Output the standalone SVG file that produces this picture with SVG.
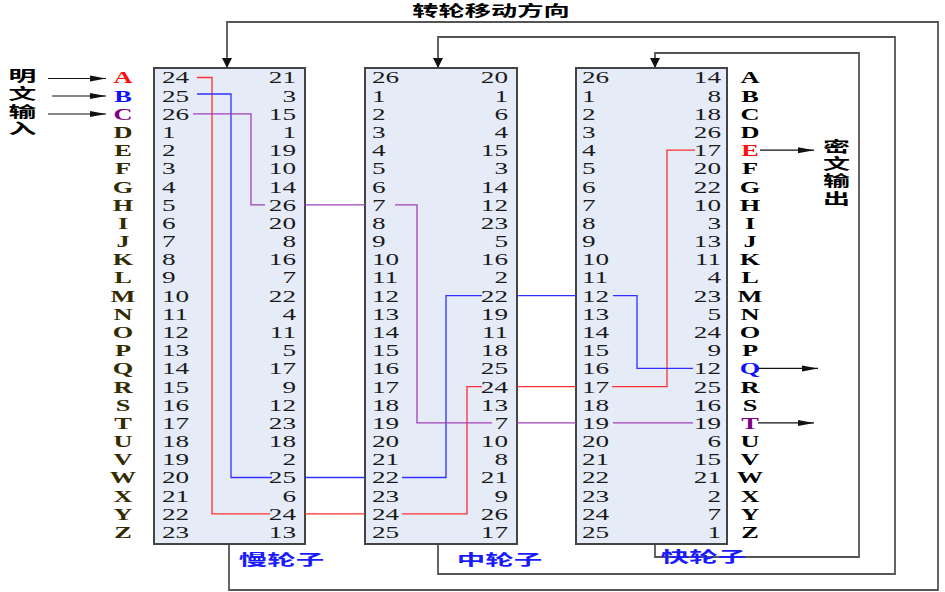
<svg xmlns="http://www.w3.org/2000/svg" width="945" height="592" viewBox="0 0 945 592">
<style>
.n{font-family:"Liberation Serif",serif;font-size:17px;fill:#1a1a1a}
.s{text-anchor:start}
.e{text-anchor:end}
.L{font-family:"Liberation Serif",serif;font-weight:bold;font-size:17px;text-anchor:middle}
.cn{font-family:"Noto Sans CJK SC",sans-serif;font-weight:bold;font-size:15px;text-anchor:middle;fill:#000}
.lab{font-family:"Noto Sans CJK SC",sans-serif;font-weight:bold;font-size:15px;text-anchor:middle;fill:#1a1aff}
.box{fill:#e6ecf7;stroke:#444;stroke-width:2}
.loop{fill:none;stroke:#555;stroke-width:1.8}
.w{fill:none;stroke-width:1.3}
.r{stroke:#ff3030}.b{stroke:#3030ff}.p{stroke:#a040b8}
.io{fill:none;stroke:#111;stroke-width:1.2}
</style>
<defs>
<marker id="ad" markerUnits="userSpaceOnUse" markerWidth="12" markerHeight="12" viewBox="0 0 12 12" refX="10" refY="6" orient="auto"><path d="M0,1 L10,6 L0,11 Z" fill="#111"/></marker>
<marker id="ah" markerUnits="userSpaceOnUse" markerWidth="17" markerHeight="8" viewBox="0 0 17 8" refX="16" refY="4" orient="auto"><path d="M0,1 L16,4 L0,7 Z" fill="#111"/></marker>
</defs>
<rect width="945" height="592" fill="#fff"/>

<g id="title"><text class="cn" transform="translate(491,0) scale(1.75,1)" x="0" y="16" font-size="17">转轮移动方向</text></g>

<g id="connectors">
<path class="loop" d="M229,544 V590 H938 V22 H227 V68" marker-end="url(#ad)"/>
<path class="loop" d="M438,544 V574 H895 V37 H438 V68" marker-end="url(#ad)"/>
<path class="loop" d="M655,544 V557 H859 V53 H655 V68" marker-end="url(#ad)"/>
<path class="io" d="M48,78.5 H106" marker-end="url(#ah)"/>
<path class="io" d="M52,96 H106" marker-end="url(#ah)"/>
<path class="io" d="M48,114 H106" marker-end="url(#ah)"/>
<path class="io" d="M760,150.2 H814" marker-end="url(#ah)"/>
<path class="io" d="M758,368.4 H818" marker-end="url(#ah)"/>
<path class="io" d="M758,422.9 H814" marker-end="url(#ah)"/>
</g>

<g id="slow">
<rect class="box" x="154" y="68" width="151" height="476"/>
<g transform="translate(162,0) scale(1.6,1)" class="n s">
<text y="83.5">24</text><text y="101.7">25</text><text y="119.9">26</text><text y="138">1</text><text y="156.2">2</text><text y="174.4">3</text><text y="192.6">4</text><text y="210.8">5</text><text y="228.9">6</text><text y="247.1">7</text><text y="265.3">8</text><text y="283.5">9</text><text y="301.7">10</text><text y="319.8">11</text><text y="338">12</text><text y="356.2">13</text><text y="374.4">14</text><text y="392.6">15</text><text y="410.7">16</text><text y="428.9">17</text><text y="447.1">18</text><text y="465.3">19</text><text y="483.5">20</text><text y="501.6">21</text><text y="519.8">22</text><text y="538">23</text>
</g>
<g transform="translate(296,0) scale(1.6,1)" class="n e">
<text y="83.5">21</text><text y="101.7">3</text><text y="119.9">15</text><text y="138">1</text><text y="156.2">19</text><text y="174.4">10</text><text y="192.6">14</text><text y="210.8">26</text><text y="228.9">20</text><text y="247.1">8</text><text y="265.3">16</text><text y="283.5">7</text><text y="301.7">22</text><text y="319.8">4</text><text y="338">11</text><text y="356.2">5</text><text y="374.4">17</text><text y="392.6">9</text><text y="410.7">12</text><text y="428.9">23</text><text y="447.1">18</text><text y="465.3">2</text><text y="483.5">25</text><text y="501.6">6</text><text y="519.8">24</text><text y="538">13</text>
</g>
<text class="lab" transform="translate(281.5,0) scale(1.9,1)" y="565">慢轮子</text>
</g>

<g id="middle">
<rect class="box" x="365" y="68" width="152" height="476"/>
<g transform="translate(372,0) scale(1.6,1)" class="n s">
<text y="83.5">26</text><text y="101.7">1</text><text y="119.9">2</text><text y="138">3</text><text y="156.2">4</text><text y="174.4">5</text><text y="192.6">6</text><text y="210.8">7</text><text y="228.9">8</text><text y="247.1">9</text><text y="265.3">10</text><text y="283.5">11</text><text y="301.7">12</text><text y="319.8">13</text><text y="338">14</text><text y="356.2">15</text><text y="374.4">16</text><text y="392.6">17</text><text y="410.7">18</text><text y="428.9">19</text><text y="447.1">20</text><text y="465.3">21</text><text y="483.5">22</text><text y="501.6">23</text><text y="519.8">24</text><text y="538">25</text>
</g>
<g transform="translate(508,0) scale(1.6,1)" class="n e">
<text y="83.5">20</text><text y="101.7">1</text><text y="119.9">6</text><text y="138">4</text><text y="156.2">15</text><text y="174.4">3</text><text y="192.6">14</text><text y="210.8">12</text><text y="228.9">23</text><text y="247.1">5</text><text y="265.3">16</text><text y="283.5">2</text><text y="301.7">22</text><text y="319.8">19</text><text y="338">11</text><text y="356.2">18</text><text y="374.4">25</text><text y="392.6">24</text><text y="410.7">13</text><text y="428.9">7</text><text y="447.1">10</text><text y="465.3">8</text><text y="483.5">21</text><text y="501.6">9</text><text y="519.8">26</text><text y="538">17</text>
</g>
<text class="lab" transform="translate(499.5,0) scale(1.9,1)" y="565">中轮子</text>
</g>

<g id="fast">
<rect class="box" x="576" y="68" width="151" height="476"/>
<g transform="translate(582,0) scale(1.6,1)" class="n s">
<text y="83.5">26</text><text y="101.7">1</text><text y="119.9">2</text><text y="138">3</text><text y="156.2">4</text><text y="174.4">5</text><text y="192.6">6</text><text y="210.8">7</text><text y="228.9">8</text><text y="247.1">9</text><text y="265.3">10</text><text y="283.5">11</text><text y="301.7">12</text><text y="319.8">13</text><text y="338">14</text><text y="356.2">15</text><text y="374.4">16</text><text y="392.6">17</text><text y="410.7">18</text><text y="428.9">19</text><text y="447.1">20</text><text y="465.3">21</text><text y="483.5">22</text><text y="501.6">23</text><text y="519.8">24</text><text y="538">25</text>
</g>
<g transform="translate(721,0) scale(1.6,1)" class="n e">
<text y="83.5">14</text><text y="101.7">8</text><text y="119.9">18</text><text y="138">26</text><text y="156.2">17</text><text y="174.4">20</text><text y="192.6">22</text><text y="210.8">10</text><text y="228.9">3</text><text y="247.1">13</text><text y="265.3">11</text><text y="283.5">4</text><text y="301.7">23</text><text y="319.8">5</text><text y="338">24</text><text y="356.2">9</text><text y="374.4">12</text><text y="392.6">25</text><text y="410.7">16</text><text y="428.9">19</text><text y="447.1">6</text><text y="465.3">15</text><text y="483.5">21</text><text y="501.6">2</text><text y="519.8">7</text><text y="538">1</text>
</g>
<text class="lab" transform="translate(703.5,0) scale(1.9,1)" y="562">快轮子</text>
</g>

<g id="wiring">
<path class="w r" d="M197,77.5 H212 V513.8 H270 M305,513.8 H365 M402,513.8 H467 V386.6 H482 M517,386.6 H576 M612,386.6 H667 V150.2 H695"/>
<path class="w b" d="M197,94 H231 V477.5 H272 M305,477.5 H365 M402,477.5 H446 V295.7 H482 M517,295.7 H576 M613,295.7 H637 V368.4 H693"/>
<path class="w p" d="M193,113.9 H251 V204.8 H265 M305,204.8 H365 M395,204.8 H417 V422.9 H492 M517,422.9 H576 M613,422.9 H693"/>
</g>

<g id="plain-letters" transform="translate(123,0) scale(1.55,1)" class="L" fill="#332b00">
<text y="83.5" fill="#ff1010">A</text><text y="101.7" fill="#1010ff">B</text><text y="119.9" fill="#800080">C</text><text y="138">D</text><text y="156.2">E</text><text y="174.4">F</text><text y="192.6">G</text><text y="210.8">H</text><text y="228.9">I</text><text y="247.1">J</text><text y="265.3">K</text><text y="283.5">L</text><text y="301.7">M</text><text y="319.8">N</text><text y="338">O</text><text y="356.2">P</text><text y="374.4">Q</text><text y="392.6">R</text><text y="410.7">S</text><text y="428.9">T</text><text y="447.1">U</text><text y="465.3">V</text><text y="483.5">W</text><text y="501.6">X</text><text y="519.8">Y</text><text y="538">Z</text>
</g>

<g id="cipher-letters" transform="translate(750,0) scale(1.55,1)" class="L" fill="#000">
<text y="83.5">A</text><text y="101.7">B</text><text y="119.9">C</text><text y="138">D</text><text y="156.2" fill="#ff1010">E</text><text y="174.4">F</text><text y="192.6">G</text><text y="210.8">H</text><text y="228.9">I</text><text y="247.1">J</text><text y="265.3">K</text><text y="283.5">L</text><text y="301.7">M</text><text y="319.8">N</text><text y="338">O</text><text y="356.2">P</text><text y="374.4" fill="#1010ff">Q</text><text y="392.6">R</text><text y="410.7">S</text><text y="428.9" fill="#800080">T</text><text y="447.1">U</text><text y="465.3">V</text><text y="483.5">W</text><text y="501.6">X</text><text y="519.8">Y</text><text y="538">Z</text>
</g>

<g id="input-label" transform="translate(22.5,0) scale(1.85,1)">
<text class="cn"><tspan x="0" y="81">明</tspan><tspan x="0" y="99">文</tspan><tspan x="0" y="117">输</tspan><tspan x="0" y="134.5">入</tspan></text>
</g>
<g id="output-label" transform="translate(836.5,0) scale(1.8,1)">
<text class="cn"><tspan x="0" y="152">密</tspan><tspan x="0" y="169.5">文</tspan><tspan x="0" y="186.5">输</tspan><tspan x="0" y="204">出</tspan></text>
</g>
</svg>
